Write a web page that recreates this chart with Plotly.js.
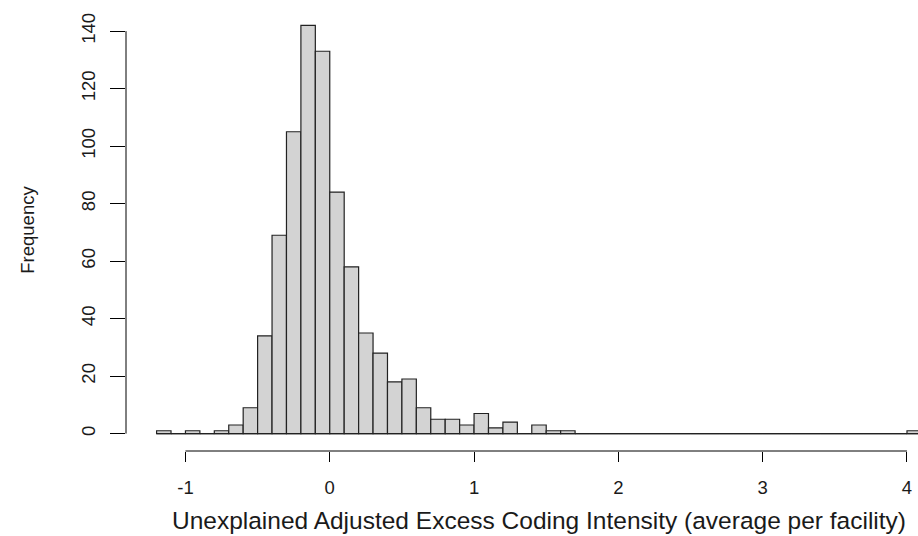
<!DOCTYPE html>
<html>
<head>
<meta charset="utf-8">
<script src="https://cdn.plot.ly/plotly-3.0.1.min.js"></script>
<style>
  html, body { margin: 0; padding: 0; overflow: hidden; background: #ffffff; }
  #chart { width: 960px; height: 536px; }
</style>
</head>
<body>
<div id="chart"></div>
<script>
// Histogram bins (lower edges), bin width 0.1
const binLower = [
  -1.2, -1.1, -1.0, -0.9, -0.8, -0.7, -0.6, -0.5, -0.4, -0.3,
  -0.2, -0.1, 0.0, 0.1, 0.2, 0.3, 0.4, 0.5, 0.6, 0.7,
  0.8, 0.9, 1.0, 1.1, 1.2, 1.3, 1.4, 1.5, 1.6, 1.7,
  1.8, 1.9, 2.0, 2.1, 2.2, 2.3, 2.4, 2.5, 2.6, 2.7,
  2.8, 2.9, 3.0, 3.1, 3.2, 3.3, 3.4, 3.5, 3.6, 3.7,
  3.8, 3.9, 4.0
];
const binWidth = 0.1;
const counts = [
  1, 0, 1, 0, 1, 3, 9, 34, 69, 105,
  142, 133, 84, 58, 35, 28, 18, 19, 9, 5,
  5, 3, 7, 2, 4, 0, 3, 1, 1, 0,
  0, 0, 0, 0, 0, 0, 0, 0, 0, 0,
  0, 0, 0, 0, 0, 0, 0, 0, 0, 0,
  0, 0, 1
];
const xTicks = [-1, 0, 1, 2, 3, 4];
const xTickLabels = ["-1", "0", "1", "2", "3", "4"];
const yTicks = [0, 20, 40, 60, 80, 100, 120, 140];
const yTickLabels = ["0", "20", "40", "60", "80", "100", "120", "140"];
const xTitle = "Unexplained Adjusted Excess Coding Intensity (average per facility)";
const yTitle = "Frequency";

const centers = binLower.map(v => v + binWidth / 2);
const firstEdge = binLower[0];
const lastEdge = binLower[binLower.length - 1] + binWidth;

const FONT = "Liberation Sans, Arial, Helvetica, sans-serif";

const traces = [
  {
    type: "scatter",
    mode: "lines",
    x: [firstEdge, lastEdge],
    y: [0, 0],
    line: { color: "#222222", width: 1.2 },
    hoverinfo: "skip",
    showlegend: false
  },
  {
    type: "bar",
    x: centers,
    y: counts,
    width: binWidth,
    marker: { color: "#d3d3d3", line: { color: "#222222", width: 1.2 } },
    showlegend: false
  }
];

const xr = [firstEdge - 0.04 * (lastEdge - firstEdge), lastEdge + 0.04 * (lastEdge - firstEdge)];

const layout = {
  width: 960,
  height: 536,
  margin: { l: 126, r: 8, t: 9, b: 85 },
  paper_bgcolor: "#ffffff",
  plot_bgcolor: "#ffffff",
  font: { family: FONT, size: 18, color: "#000000" },
  bargap: 0,
  xaxis: {
    range: xr,
    showgrid: false,
    zeroline: false,
    showline: false,
    tickmode: "array",
    tickvals: xTicks,
    ticktext: xTickLabels,
    ticks: "outside",
    ticklen: 10,
    tickwidth: 1,
    tickcolor: "#000000",
    ticklabelstandoff: 10,
    tickfont: { family: FONT, size: 18.5, color: "#1a1a1a" },
    title: { text: xTitle, font: { family: FONT, size: 24.5, color: "#1a1a1a" }, standoff: 14 }
  },
  yaxis: {
    range: [-6.05, 147.7],
    showgrid: false,
    zeroline: false,
    showline: false,
    tickmode: "array",
    tickvals: yTicks,
    ticktext: yTickLabels,
    ticks: "outside",
    ticklen: 15,
    tickwidth: 1,
    tickcolor: "#000000",
    tickangle: -90,
    ticklabelstandoff: 8,
    tickfont: { family: FONT, size: 18.5, color: "#1a1a1a" },
    title: { text: yTitle, font: { family: FONT, size: 18.5, color: "#1a1a1a" }, standoff: 38 }
  },
  shapes: [
    {
      type: "line", xref: "x", yref: "paper",
      x0: xTicks[0], x1: xTicks[xTicks.length - 1], y0: 0, y1: 0,
      line: { color: "#000000", width: 1 }
    },
    {
      type: "line", xref: "paper", yref: "y",
      x0: 0, x1: 0, y0: yTicks[0], y1: yTicks[yTicks.length - 1],
      line: { color: "#000000", width: 1 }
    }
  ]
};

Plotly.newPlot("chart", traces, layout, { displayModeBar: false, staticPlot: true });
</script>
</body>
</html>
